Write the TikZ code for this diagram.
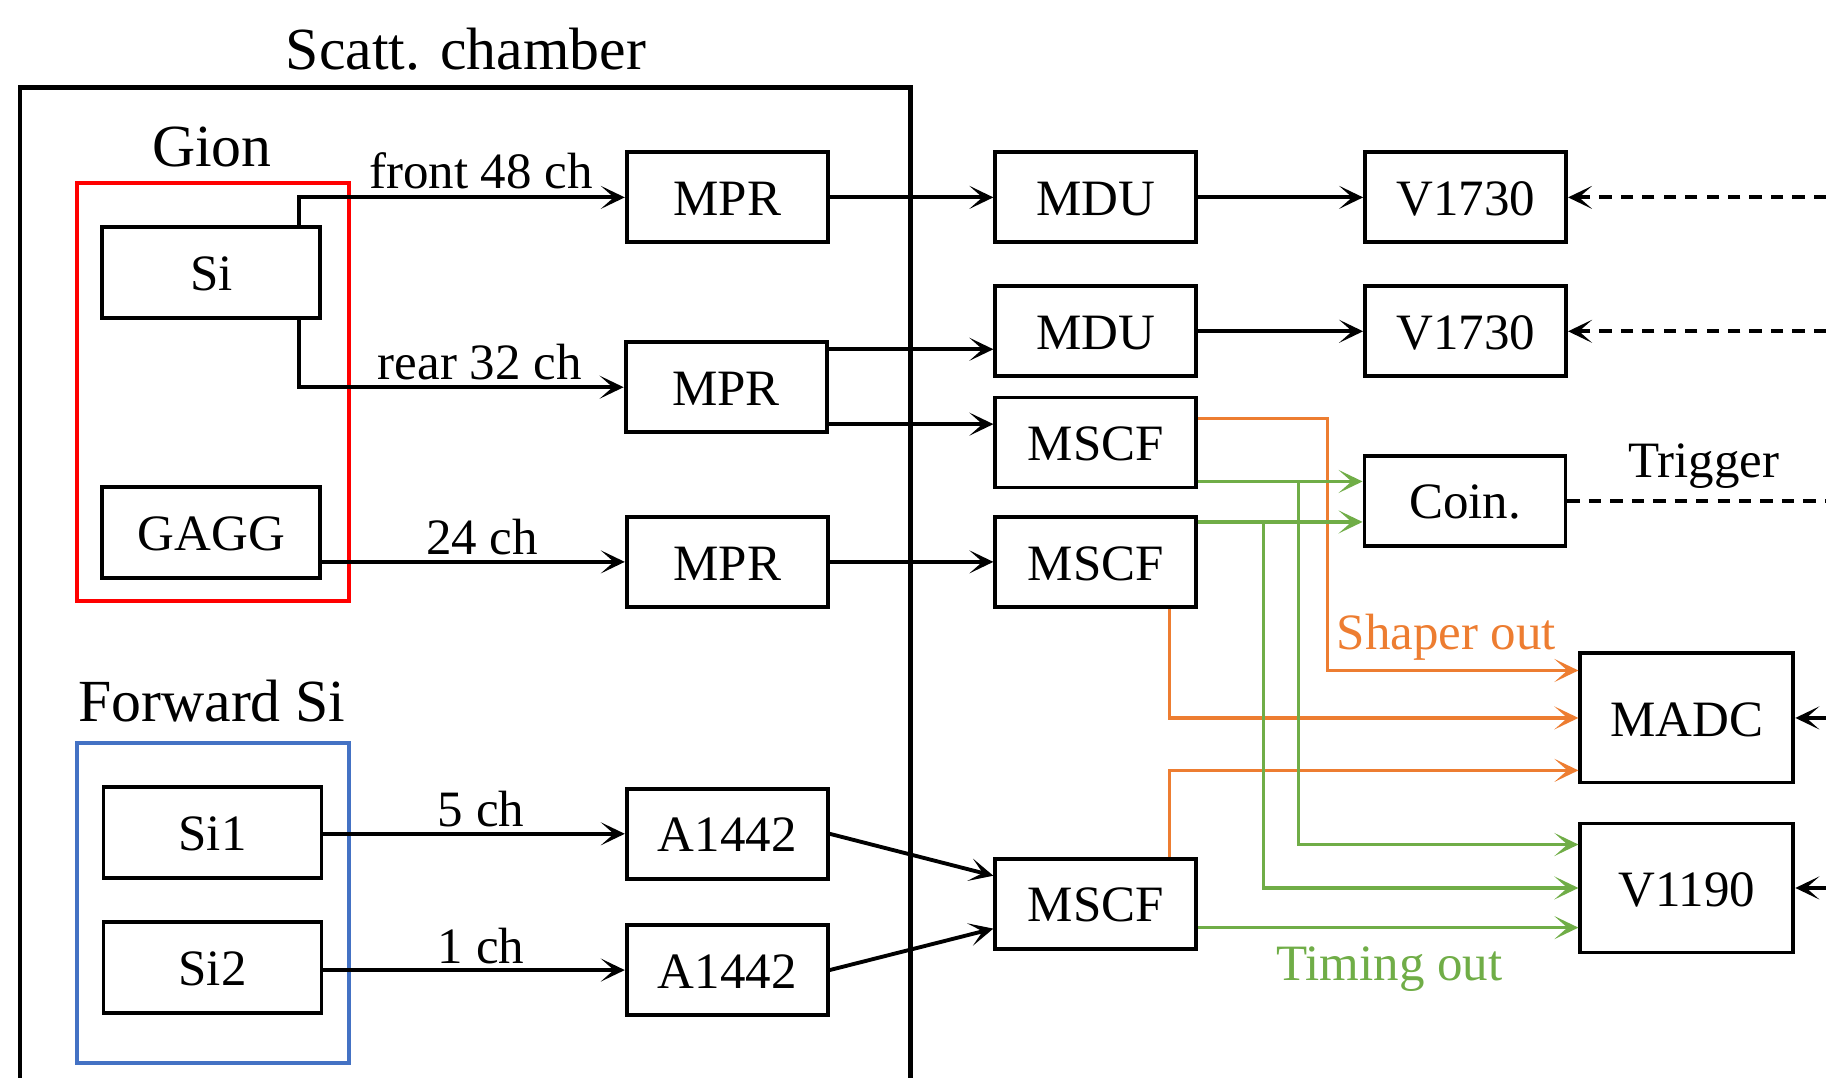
\documentclass[tikz,border=0pt]{standalone}
\usepackage{fontspec}
\setmainfont{Liberation Serif}
\usetikzlibrary{arrows.meta,calc}
\definecolor{shaperorange}{HTML}{ED7D31}
\definecolor{timinggreen}{HTML}{70AD47}
\definecolor{forwardblue}{HTML}{4472C4}

\begin{document}
\begin{tikzpicture}[x=0.011645cm, y=-0.011645cm,
  font=\fontsize{14.5}{17}\selectfont,
  modbox/.style={draw, line width=1.1pt, inner sep=0pt, minimum width=2.01cm, minimum height=0.9cm,
    text height=2.4ex, text depth=0.15ex},
  detbox/.style={modbox, minimum width=2.18cm, minimum height=0.91cm},
  vmebox/.style={modbox, minimum width=2.13cm, minimum height=1.29cm},
  grouptitle/.style={font=\fontsize{17}{20}\selectfont},
  sig/.style={line width=1.1pt, -{Stealth[length=2.4mm,width=2.3mm,inset=1.3mm]}},
  shaper/.style={sig, line width=0.95pt, shaperorange},
  timing/.style={sig, line width=0.95pt, timinggreen},
  extline/.style={line width=1.1pt, dash pattern=on 3.5pt off 2.6pt}]
  \useasboundingbox (0,0) rectangle (1568,925);

  % scattering chamber and detector groups
  \draw[line width=1.3pt] (17,75) rectangle (782,940);
  \node[grouptitle] (chamber) at (400,42) {Scatt. chamber};
  \draw[red, line width=1.1pt] (66,157) rectangle (300,516);
  \node[grouptitle] (gion) at (182,126) {Gion};
  \draw[forwardblue, line width=1.1pt] (66,638) rectangle (300,913);
  \node[grouptitle] (fwd) at (182,602) {Forward Si};

  % detectors
  \node[detbox] (si)   at (181.5,234)   {Si};
  \node[detbox] (gagg) at (181.5,457.5) {GAGG};
  \node[detbox] (si1)  at (182.5,715)   {Si1};
  \node[detbox] (si2)  at (182.5,831)   {Si2};

  % preamps
  \node[modbox] (mpr1)  at (624.5,169.5) {MPR};
  \node[modbox] (mpr2)  at (623.5,332.5) {MPR};
  \node[modbox] (mpr3)  at (624.5,482.5) {MPR};
  \node[modbox] (amp1)  at (624.5,716)   {A1442};
  \node[modbox] (amp2)  at (624.5,833)   {A1442};

  % shapers
  \node[modbox] (mdu1)  at (941,169.5) {MDU};
  \node[modbox] (mdu2)  at (941,284.5) {MDU};
  \node[modbox] (mscf1) at (941,380)   {MSCF};
  \node[modbox] (mscf2) at (941,482.5) {MSCF};
  \node[modbox] (mscf3) at (941,776)   {MSCF};

  % digitizers
  \node[modbox] (dig1) at (1258.5,169.5) {V1730};
  \node[modbox] (dig2) at (1258.5,284.5) {V1730};
  \node[modbox] (coin) at (1258,430)     {Coin.};
  \node[vmebox] (madc) at (1448.5,616.5) {MADC};
  \node[vmebox] (tdc)  at (1448.5,762.5) {V1190};

  % detector to preamp
  \draw[sig] ([xshift=-0.23cm]si.north east) |- (mpr1.west);
  \node (lfront) at (413,147) {front 48 ch};
  \draw[sig] ([xshift=-0.23cm]si.south east) |- (mpr2.west);
  \node (lrear) at (412,311) {rear 32 ch};
  \draw[sig] (gagg.east |- mpr3.west) -- (mpr3.west);
  \node (lgagg) at (414,461) {24 ch};
  \draw[sig] (si1.east |- amp1.west) -- (amp1.west);
  \node (lsi1) at (413,695) {5 ch};
  \draw[sig] (si2.east |- amp2.west) -- (amp2.west);
  \node (lsi2) at (413,812) {1 ch};

  % preamp to shaper
  \draw[sig] (mpr1.east) -- (mdu1.west);
  \draw[sig] ([yshift=-0.09cm]mpr2.north east) coordinate (p2a) -- (p2a -| mdu2.west);
  \draw[sig] ([yshift=0.1cm]mpr2.south east) coordinate (p2b) -- (p2b -| mscf1.west);
  \draw[sig] (mpr3.east) -- (mscf2.west);
  \draw[sig] (amp1.east) -- ([yshift=-0.19cm]mscf3.north west);
  \draw[sig] (amp2.east) -- ([yshift=0.22cm]mscf3.south west);

  % shaper to digitizer
  \draw[sig] (mdu1.east) -- (dig1.west);
  \draw[sig] (mdu2.east) -- (dig2.west);

  % shaper out
  \draw[shaper] ([yshift=-0.23cm]mscf1.north east) -- ++(111,0) |- ([yshift=-0.19cm]madc.north west);
  \draw[shaper] ([xshift=-0.29cm]mscf2.south east) |- (madc.west);
  \draw[shaper] ([xshift=-0.29cm]mscf3.north east) |- ([yshift=0.14cm]madc.south west);
  \node[text=shaperorange] (lshaper) at (1242,547) {Shaper out};

  % timing out
  \draw[timing] ([yshift=0.08cm]mscf1.south east) coordinate (t1) -- (t1 -| coin.west);
  \draw[timing] ($(t1)+(86,0)$) |- ([yshift=-0.23cm]tdc.north west);
  \draw[timing] ([yshift=-0.07cm]mscf2.north east) coordinate (t2) -- (t2 -| coin.west);
  \draw[timing] ($(t2)+(56,0)$) |- (tdc.west);
  \draw[timing] ([yshift=0.23cm]mscf3.south east) coordinate (t3) -- (t3 -| tdc.west);
  \node[text=timinggreen] (ltiming) at (1193,832) {Timing out};

  % external trigger lines
  \coordinate (ext1) at (1568,169.5);
  \coordinate (ext2) at (1568,284.5);
  \coordinate (ext3) at (1568,430);
  \coordinate (ext4) at (1568,616.5);
  \coordinate (ext5) at (1568,762.5);
  \draw[sig, extline] (ext1) -- (dig1.east);
  \draw[sig, extline] (ext2) -- (dig2.east);
  \draw[extline] (coin.east) -- (ext3);
  \node (ltrig) at (1463,400) {Trigger};
  \draw[sig] (ext4) -- (madc.east);
  \draw[sig] (ext5) -- (tdc.east);
\end{tikzpicture}
\end{document}
